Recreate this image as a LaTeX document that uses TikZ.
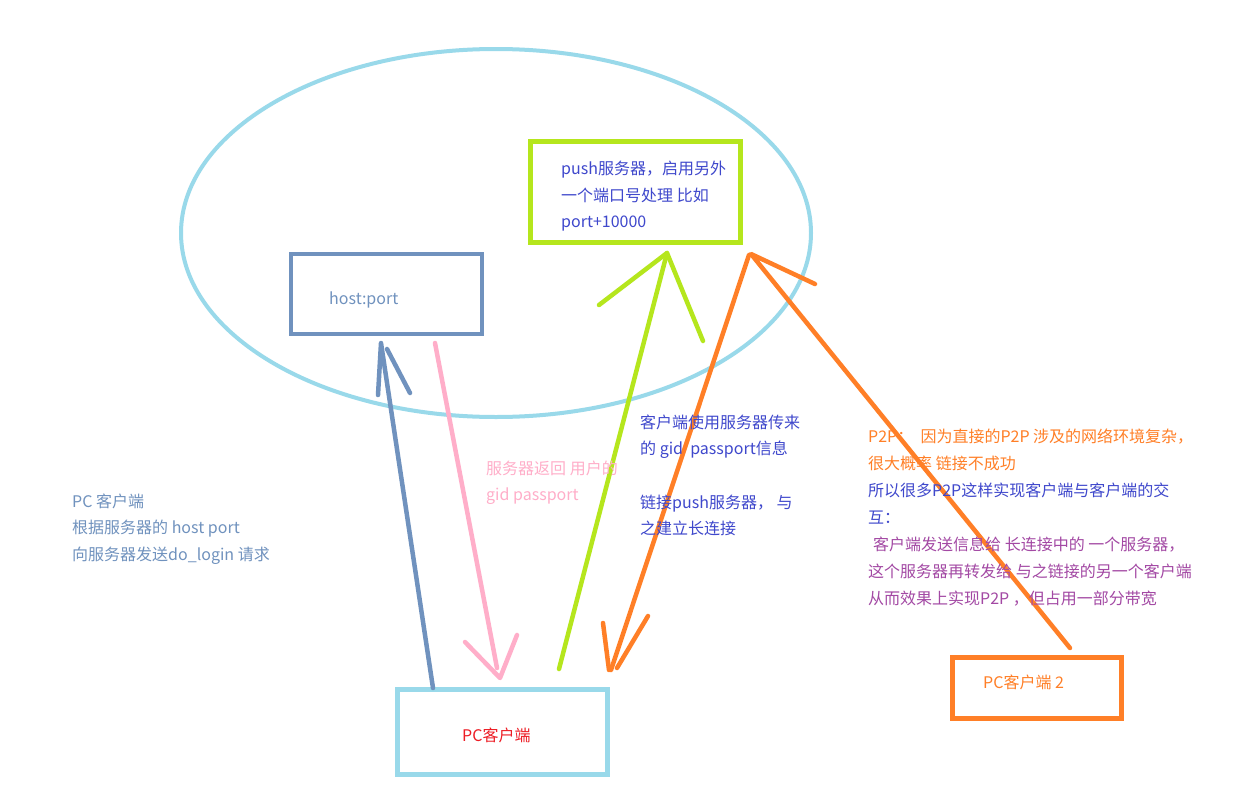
\documentclass[tikz,border=0pt]{standalone}
\usepackage{fontspec}
\newfontfamily\cjk{Noto Sans CJK SC}
\definecolor{ltblue}{HTML}{99D9EA}
\definecolor{steel}{HTML}{7092BE}
\definecolor{lime}{HTML}{B5E61D}
\definecolor{orng}{HTML}{FF7F27}
\definecolor{pnk}{HTML}{FFAEC9}
\definecolor{redc}{HTML}{ED1C24}
\definecolor{indg}{HTML}{3F48CC}
\definecolor{purp}{HTML}{A349A4}
\begin{document}
\begin{tikzpicture}[x=1pt,y=-1pt,
  box/.style={draw, line width=4.8pt, inner sep=0pt, rectangle},
  txt/.style={font=\cjk\fontsize{16pt}{20pt}\selectfont, inner sep=0pt, anchor=base west},
  arr/.style={line width=4.5pt, line cap=round, line join=round}]
\useasboundingbox[fill=white] (0,0) rectangle (1240,806);

% big ellipse
\draw[ltblue, line width=4pt] (496,233) ellipse [x radius=315pt, y radius=184pt];

% boxes
\node[box, draw=steel, minimum width=191pt, minimum height=80pt] (host) at (386.5,294) {};
\node[box, draw=lime, minimum width=210pt, minimum height=101pt] (push) at (635.5,192) {};
\node[box, draw=ltblue, minimum width=210pt, minimum height=85pt] (pc) at (502.5,732) {};
\node[box, draw=orng, minimum width=169pt, minimum height=61pt] (pc2) at (1037,688) {};

% box texts
\node[txt, text=steel] (hostt) at (329,304) {host:port};
\node[txt, text=indg] (pusht1) at (561,174) {push服务器，启用另外};
\node[txt, text=indg] (pusht2) at (561,201) {一个端口号处理 比如};
\node[txt, text=indg] (pusht3) at (561,227) {port+10000};
\node[txt, text=redc] (pct) at (462,741) {PC客户端};
\node[txt, text=orng] (pc2t) at (983,688) {PC客户端 2};

% coordinates of hand-drawn connectors
\coordinate (b0) at (433,688);
\coordinate (b1) at (381,343);
\coordinate (bh1) at (378,395);
\coordinate (bh0) at (387,349);
\coordinate (bh2) at (410,393);

\coordinate (p0) at (435,343);
\coordinate (p1) at (497,668);
\coordinate (pt) at (500,678);
\coordinate (ph1) at (465,642);
\coordinate (ph2) at (517,635);

\coordinate (g0) at (559,669);
\coordinate (g1) at (667,253);
\coordinate (gh1) at (599,305);
\coordinate (gh2) at (703,341);

\coordinate (o0) at (749,255);
\coordinate (o1) at (611,670);
\coordinate (oh1) at (603,623);
\coordinate (oh1e) at (609,670);
\coordinate (oh2) at (648,616);
\coordinate (oh2e) at (617,668);

\coordinate (o2) at (1070,648);
\coordinate (o3) at (751,254);
\coordinate (oh3) at (815,284);

% blue arrow: PC client -> host:port
\draw[arr, steel] (b0) -- (b1) -- (bh1);
\draw[arr, steel] (bh0) -- (bh2);
% pink arrow: host:port -> PC client
\draw[arr, pnk] (p0) -- (p1);
\draw[arr, pnk] (ph1) -- (pt) -- (ph2);
% lime arrow: PC client -> push server
\draw[arr, lime] (g0) -- (g1);
\draw[arr, lime] (gh1) -- (g1) -- (gh2);
% orange: push server -> PC client
\draw[arr, orng] (o0) -- (o1);
\draw[arr, orng] (oh1) -- (oh1e);
\draw[arr, orng] (oh2) -- (oh2e);
% orange: PC client 2 -> push server
\draw[arr, orng] (o2) -- (o3) -- (oh3);

% middle texts
\node[txt, text=indg] (m1) at (640,428) {客户端使用服务器传来};
\node[txt, text=indg] (m2) at (640,454) {的 gid\ \ passport信息};
\node[txt, text=indg] (m3) at (640,508) {链接push服务器， 与};
\node[txt, text=indg] (m4) at (640,534) {之建立长连接};

\node[txt, text=pnk] (k1) at (486,474) {服务器返回 用户的};
\node[txt, text=pnk] (k2) at (486,500) {gid passport};

% left texts
\node[txt, text=steel] (l1) at (72,507) {PC 客户端};
\node[txt, text=steel] (l2) at (72,533) {根据服务器的 host port};
\node[txt, text=steel] (l3) at (72,560) {向服务器发送do\_login 请求};

% right texts
\node[txt, text=orng] (r1) at (868,442) {P2P：\ \ 因为直接的P2P 涉及的网络环境复杂，};
\node[txt, text=orng] (r2) at (868,469) {很大概率 链接不成功};
\node[txt, text=indg] (r3) at (868,496) {所以很多P2P这样实现客户端与客户端的交};
\node[txt, text=indg] (r4) at (868,523) {互：};
\node[txt, text=purp] (r5) at (873,550) {客户端发送信息给 长连接中的 一个服务器，};
\node[txt, text=purp] (r6) at (868,577) {这个服务器再转发给 与之链接的另一个客户端};
\node[txt, text=purp] (r7) at (868,604) {从而效果上实现P2P ，但占用一部分带宽};
\end{tikzpicture}
\end{document}
